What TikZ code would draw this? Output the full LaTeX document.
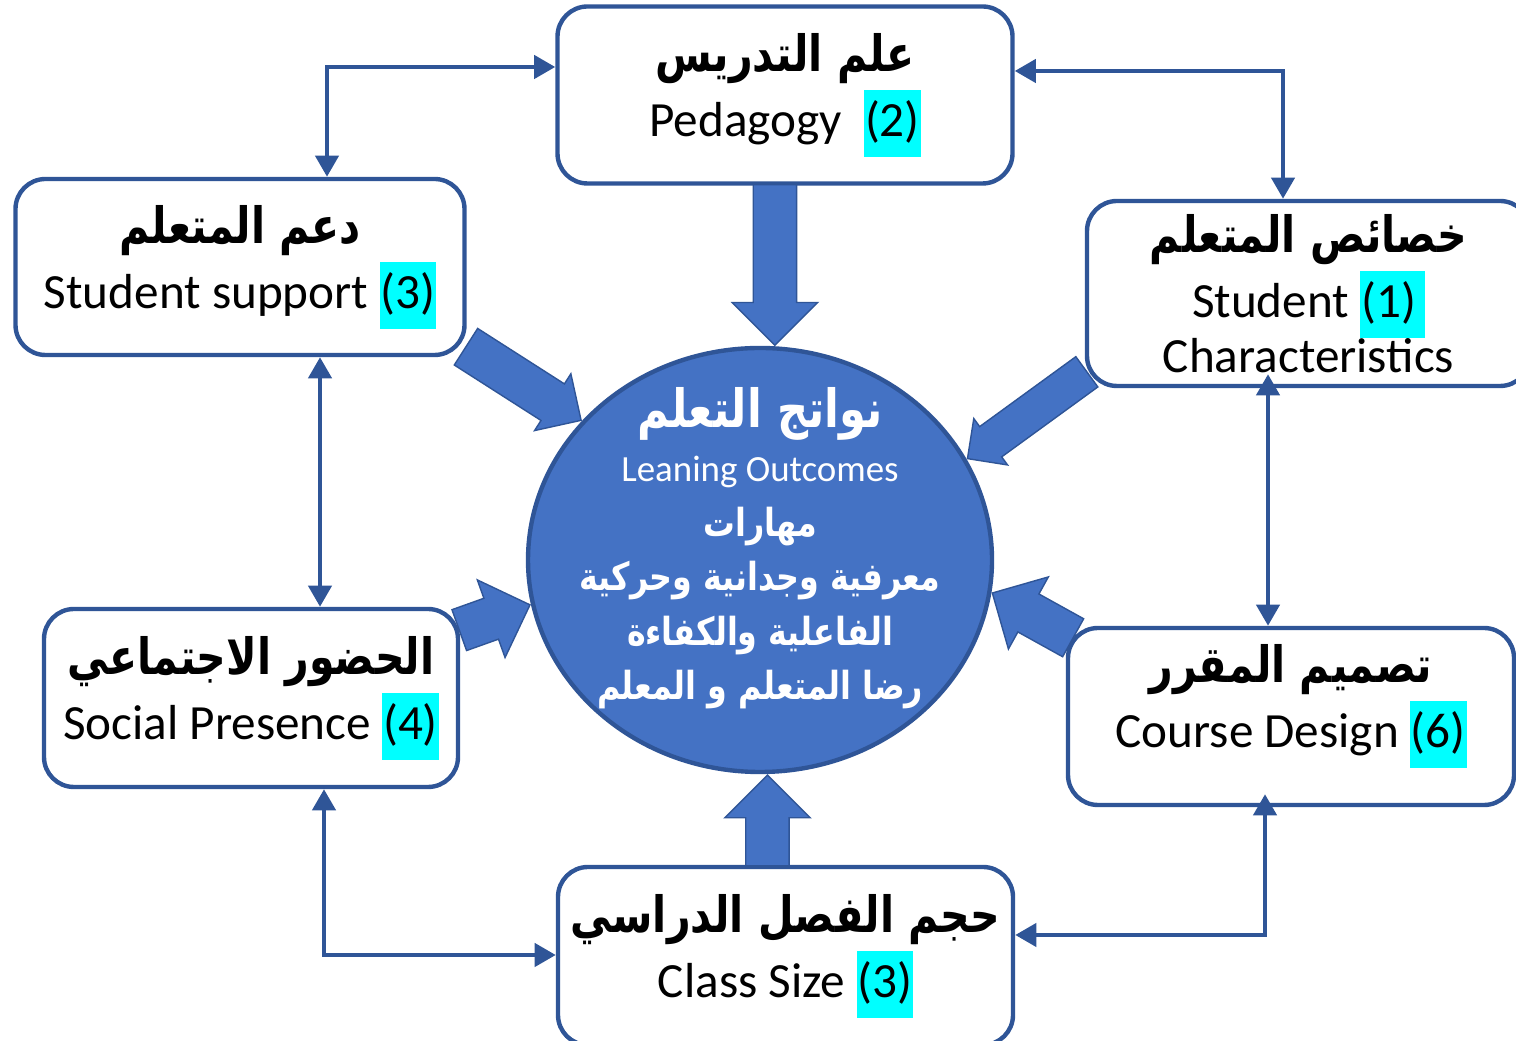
\documentclass[tikz,border=0pt]{standalone}
\usepackage{fontspec}
\setmainfont{Carlito}
\newfontfamily\arabicfont[Script=Arabic,FakeStretch=0.82]{DejaVu Sans}
\usetikzlibrary{shapes.geometric,shapes.arrows,arrows.meta,calc}
\TeXXeTstate=1
\definecolor{blaa}{HTML}{4472C4}
\definecolor{mork}{HTML}{2F5597}
\definecolor{turkis}{HTML}{00FFFF}
\newcommand{\arabisk}[1]{\fontsize{#1}{31}\selectfont\arabicfont\bfseries}
\newcommand{\nummer}[1]{{\setlength{\fboxsep}{0.5pt}\colorbox{turkis}{\strut #1}}}

\begin{document}
\begin{tikzpicture}[
  every node/.style={inner sep=0pt},
  >={Triangle[width=13pt,length=12pt]}
]
\tikzstyle{kasse}=[rectangle, rounded corners=0.6cm, draw=mork, line width=2.5pt, fill=white, align=center, minimum height=3.54cm, font=\fontsize{28}{37}\selectfont]
\tikzstyle{midte}=[ellipse, draw=mork, fill=blaa, line width=2.5pt, minimum width=9.28cm, minimum height=8.48cm]
\tikzstyle{tynd}=[draw=mork, line width=2.6pt, <->]
\tikzstyle{blok}=[single arrow, draw=mork, fill=blaa, line width=0.8pt, single arrow tip angle=90, anchor=tip]

\useasboundingbox (0,0) rectangle (30.32,20.82);
\clip (0,0) rectangle (30.32,20.82);

% felterne
\node[kasse, minimum width=9.10cm] (ped) at (15.70,18.92) {{\arabisk{28.5}\beginR علم التدريس\endR}\\ Pedagogy\ \ \nummer{(2)}};
\node[kasse, minimum width=8.98cm, minimum height=3.52cm] (sup) at (4.80,15.48) {{\arabisk{28.5}\beginR دعم المتعلم\endR}\\ Student support \nummer{(3)}};
\node[kasse, minimum width=8.86cm, minimum height=3.70cm] (char) at (26.17,14.95) {{\arabisk{28.5}\beginR خصائص المتعلم\endR}\\ Student \nummer{(1)\,}\\[-6pt] Characteristics};
\node[kasse, minimum width=8.28cm, minimum height=3.56cm] (soc) at (5.02,6.86) {{\arabisk{28.5}\beginR الحضور الاجتماعي\endR}\\ Social Presence \nummer{(4)}};
\node[kasse, minimum width=8.92cm] (des) at (25.82,6.49) {{\arabisk{28.5}\beginR تصميم المقرر\endR}\\ Course Design \nummer{(6)}\\[-14pt]\mbox{}};
\node[kasse, minimum width=9.10cm, minimum height=3.56cm] (cls) at (15.71,1.70) {{\arabisk{28.5}\beginR حجم الفصل الدراسي\endR}\\ Class Size \nummer{(3)}};

% midten
\node[midte] (midt) at (15.20,9.62) {};
\node[text=white, align=center, font=\fontsize{21}{31}\selectfont] (udbytte) at (15.20,9.86)
  {{\arabisk{30}\beginR نواتج التعلم\endR}\\ Leaning Outcomes\\
   {\arabisk{22}\beginR مهارات\endR}\\
   {\arabisk{22}\beginR معرفية وجدانية وحركية\endR}\\
   {\arabisk{22}\beginR الفاعلية والكفاءة\endR}\\
   {\arabisk{22}\beginR رضا المتعلم و المعلم\endR}};

% tykke pile
\coordinate (p1) at (midt.86 |- ped.south);
\coordinate (p2) at (midt.272 |- cls.north);
\coordinate (p3) at ($(sup.south east)+(0,0.2)$);
\coordinate (p4) at ($(char.south west)+(0.03,0.32)$);
\coordinate (p5) at ($(soc.north east)+(0,-0.46)$);
\coordinate (p6) at ($(des.north west)+(0.13,-0.23)$);
\foreach \fra/\til/\hoved/\skaft in {p1/midt.86/1.68/0.84, p2/midt.272/1.68/0.84, p3/midt.142/1.32/0.84,
  p4/midt.26/1.12/0.72, p5/midt.191/1.62/0.84, p6/midt.352/1.62/0.84}
  \path let \p1=($(\til)-(\fra)$), \n1={atan2(\y1,\x1)}, \n2={veclen(\x1,\y1)} in
    node[blok, inner ysep={\skaft/2*1cm}, minimum width=\hoved cm, single arrow head extend={(\hoved-\skaft)/2*1cm}, rotate=\n1, minimum height=\n2] (pil-\fra) at (\til) {};

% tynde pile
\coordinate (v1) at (6.54,19.48);
\draw[tynd] (sup.north -| v1) |- (ped.west |- v1);
\coordinate (h1) at (25.66,19.40);
\draw[tynd] (ped.east |- h1) -| (char.north -| h1);
\coordinate (v2) at (6.40,0);
\draw[tynd] (sup.south -| v2) -- (soc.north -| v2);
\coordinate (h2) at (25.36,0);
\draw[tynd] ($(char.south -| h2)+(0,0.28)$) -- (des.north -| h2);
\coordinate (v3) at (6.48,1.72);
\draw[tynd] (soc.south -| v3) |- (cls.west |- v3);
\coordinate (h3) at (25.30,2.12);
\draw[tynd] (cls.east |- h3) -| ($(des.south -| h3)+(0,0.26)$);
\end{tikzpicture}
\end{document}
